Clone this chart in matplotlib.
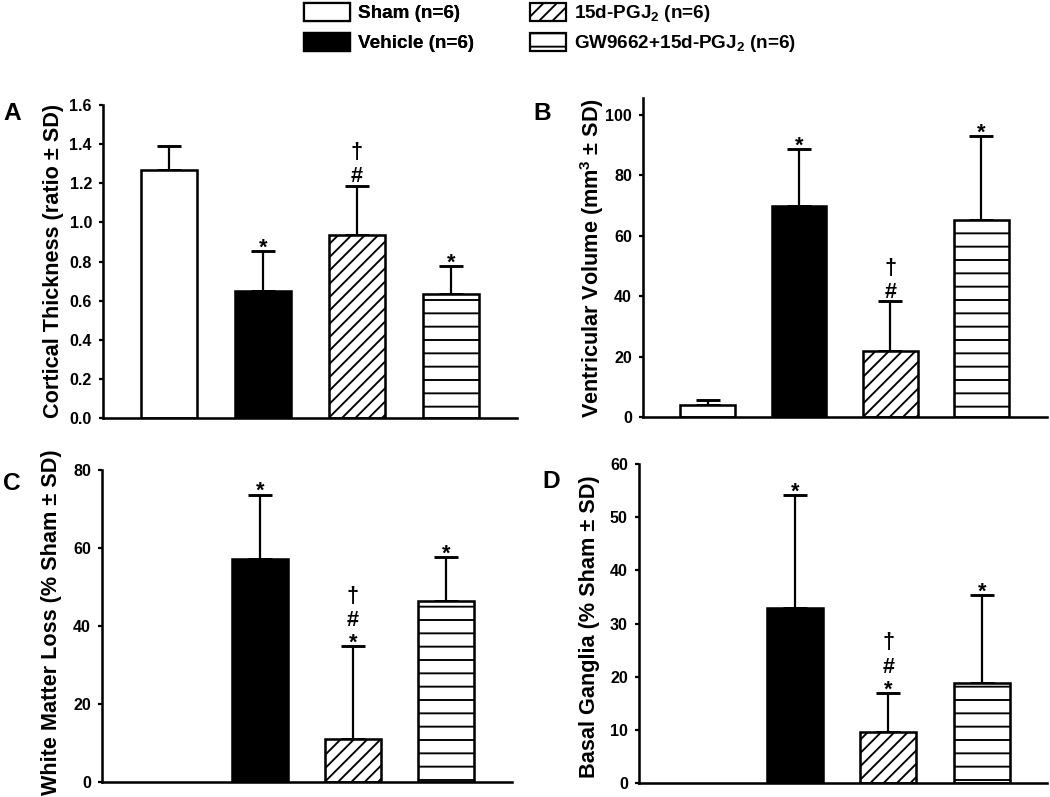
import matplotlib
matplotlib.use("Agg")
import matplotlib.pyplot as plt
from matplotlib.patches import Patch
import numpy as np

# ---------------- data ----------------
groups = ["Sham (n=6)", "Vehicle (n=6)", "15d-PGJ$_2$ (n=6)", "GW9662+15d-PGJ$_2$ (n=6)"]

cortical_mean = [1.27, 0.65, 0.935, 0.635]
cortical_sd = [0.12, 0.205, 0.253, 0.14]

ventricular_mean = [3.9, 69.8, 22.0, 65.3]
ventricular_sd = [1.8, 18.9, 16.3, 27.8]

white_mean = [np.nan, 57.1, 10.9, 46.3]
white_sd = [np.nan, 16.6, 23.9, 11.4]

basal_mean = [np.nan, 33.0, 9.6, 18.9]
basal_sd = [np.nan, 21.1, 7.3, 16.4]

sig_A = [[], ["*"], ["#", "†"], ["*"]]
sig_B = [[], ["*"], ["#", "†"], ["*"]]
sig_C = [[], ["*"], ["*", "#", "†"], ["*"]]
sig_D = [[], ["*"], ["*", "#", "†"], ["*"]]

ylabels = ["Cortical Thickness (ratio ± SD)",
           "Ventricular Volume (mm$^3$ ± SD)",
           "White Matter Loss (% Sham ± SD)",
           "Basal Ganglia (% Sham ± SD)"]
panel_letters = ["A", "B", "C", "D"]
yticks_A = [0.0, 0.2, 0.4, 0.6, 0.8, 1.0, 1.2, 1.4, 1.6]
yticks_B = [0, 20, 40, 60, 80, 100]
yticks_C = [0, 20, 40, 60, 80]
yticks_D = [0, 10, 20, 30, 40, 50, 60]

# ---------------- style ----------------
DPI = 80
W, H = 1050, 797
PX = 72.0 / DPI  # points per pixel

plt.rcParams['font.family'] = ['Liberation Sans', 'DejaVu Sans']
plt.rcParams['font.weight'] = 'bold'
plt.rcParams['mathtext.fontset'] = 'custom'
plt.rcParams['mathtext.rm'] = 'Liberation Sans:bold'
plt.rcParams['mathtext.it'] = 'Liberation Sans:bold'
plt.rcParams['mathtext.bf'] = 'Liberation Sans:bold'
plt.rcParams['mathtext.default'] = 'bf'
plt.rcParams['hatch.linewidth'] = 1.7
plt.rcParams['hatch.color'] = 'black'

faces = ['white', 'black', 'white', 'white']
hatches = [None, None, '//', '-']

fig = plt.figure(figsize=(W / DPI, H / DPI), dpi=DPI)

def ax_px(left, top, right, bottom):
    return [left / W, 1 - bottom / H, (right - left) / W, (bottom - top) / H]

panels = [
    dict(rect=ax_px(103, 105, 517, 418), mean=cortical_mean, sd=cortical_sd, sig=sig_A,
         ylim=(0, 1.6), yticks=yticks_A, fmt="{:.1f}", xlim=(0.30, 4.70),
         ylab_xy=(54, 261), letter_xy=(3, 114)),
    dict(rect=ax_px(643, 98, 1047, 417), mean=ventricular_mean, sd=ventricular_sd, sig=sig_B,
         ylim=(0, 105.6), yticks=yticks_B, fmt="{:d}", xlim=(0.29, 4.72),
         ylab_xy=(592, 258), letter_xy=(533, 113)),
    dict(rect=ax_px(102, 470, 512, 782), mean=white_mean, sd=white_sd, sig=sig_C,
         ylim=(0, 80), yticks=yticks_C, fmt="{:d}", xlim=(0.30, 4.71),
         ylab_xy=(52, 622), letter_xy=(3, 483)),
    dict(rect=ax_px(639, 464, 1047, 783), mean=basal_mean, sd=basal_sd, sig=sig_D,
         ylim=(0, 60), yticks=yticks_D, fmt="{:d}", xlim=(0.33, 4.70),
         ylab_xy=(589, 627), letter_xy=(542, 481)),
]

SYM_FS = 19.5
em = SYM_FS / PX  # pixels
# glyph ink-centre height above baseline (fraction of em)
glyph_c = {"*": 0.58, "#": 0.36, "†": 0.29}

for i, p in enumerate(panels):
    ax = fig.add_axes(p['rect'])
    x = np.arange(1, 5)
    m = np.array(p['mean'], dtype=float)
    s = np.array(p['sd'], dtype=float)
    ok = ~np.isnan(m)
    for xi, mi, fc, ht in zip(x[ok], m[ok], np.array(faces)[ok], np.array(hatches, dtype=object)[ok]):
        ax.bar(xi, mi, width=0.6, color=fc, edgecolor='black', linewidth=2.3,
               hatch=ht, zorder=2)
    ax.errorbar(x[ok], m[ok], yerr=[np.zeros(ok.sum()), s[ok]], fmt='none',
                ecolor='black', elinewidth=2.0, capsize=11, capthick=2.6, zorder=1)
    # significance symbols
    for xi, mi, si, syms in zip(x, m, s, p['sig']):
        if not syms:
            continue
        top = mi + si
        centre = 10.0
        for k, sym in enumerate(syms):
            if k == 0:
                centre = 10.0 if sym == "*" else 11.0
            else:
                centre += 18.0 if sym == "#" else 23.0
            base_px = centre - glyph_c[sym] * em
            ax.annotate(sym, xy=(xi, top), xytext=(0, base_px * PX),
                        textcoords='offset points', ha='center', va='baseline',
                        fontsize=SYM_FS, fontweight='bold', annotation_clip=False)
    ax.set_xlim(*p['xlim'])
    ax.set_ylim(*p['ylim'])
    ax.set_yticks(p['yticks'])
    if p['fmt'] == "{:d}":
        ax.set_yticklabels([str(int(t)) for t in p['yticks']])
    else:
        ax.set_yticklabels([p['fmt'].format(t) for t in p['yticks']])
    ax.set_xticks([])
    for sp in ['top', 'right']:
        ax.spines[sp].set_visible(False)
    for sp in ['left', 'bottom']:
        ax.spines[sp].set_linewidth(2.3)
    ax.tick_params(axis='y', direction='out', length=4.0, width=2.0,
                   pad=6, labelsize=14.5)
    for lab in ax.get_yticklabels():
        lab.set_fontweight('bold')
    fig.text(p['ylab_xy'][0] / W, 1 - p['ylab_xy'][1] / H, ylabels[i], rotation=90,
             ha='center', va='center', fontsize=19.5, fontweight='bold')
    fig.text(p['letter_xy'][0] / W, 1 - p['letter_xy'][1] / H, panel_letters[i],
             ha='left', va='center', fontsize=22, fontweight='bold')

# ---------------- legend ----------------
handles = [Patch(facecolor=fc, edgecolor='black', linewidth=2.0, hatch=ht)
           for fc, ht in zip(faces, hatches)]
leg1 = fig.legend(handles[:2], groups[:2], loc='upper left',
                  bbox_to_anchor=(304 / W, 1 - 3 / H), frameon=False,
                  fontsize=17, handlelength=2.45, handleheight=1.1,
                  handletextpad=0.42, labelspacing=0.55, borderpad=0,
                  borderaxespad=0)
fig.add_artist(leg1)
leg2 = fig.legend(handles[2:], groups[2:], loc='upper left',
                  bbox_to_anchor=(530 / W, 1 - 3 / H), frameon=False,
                  fontsize=17, handlelength=1.9, handleheight=1.1,
                  handletextpad=0.42, labelspacing=0.45, borderpad=0,
                  borderaxespad=0)

fig.savefig("out.png", dpi=DPI)
